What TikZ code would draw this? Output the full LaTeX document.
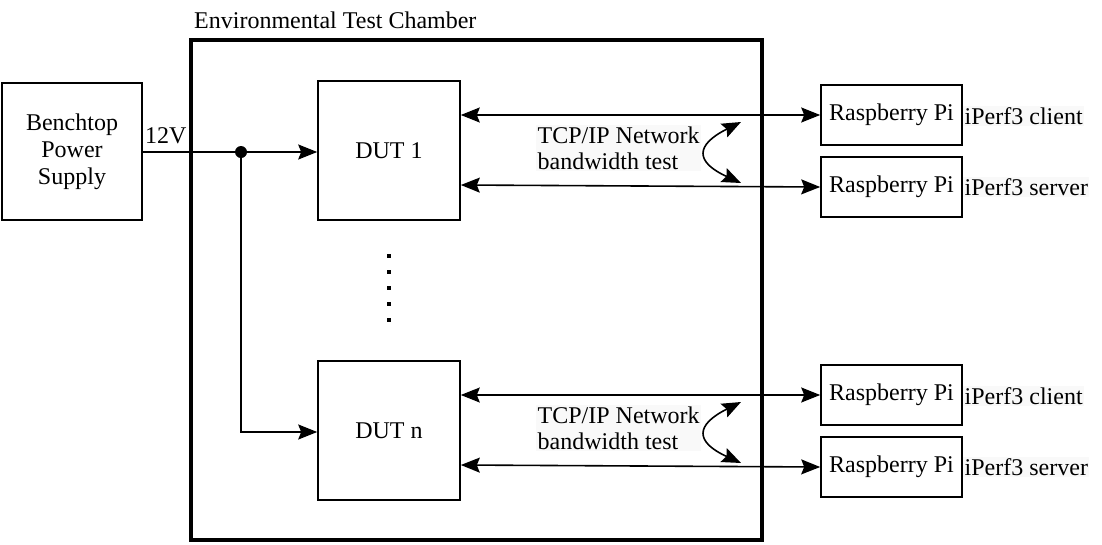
\documentclass[tikz,border=0pt]{standalone}
\usepackage{fontspec}
\setmainfont{Liberation Serif}
\usetikzlibrary{arrows.meta,positioning,calc}
\tikzset{
  block/.style={
    draw,
    line width=1.6pt,
    inner sep=0pt,
    align=center
  },
  rpibox/.style={
    block,
    minimum width=141pt,
    minimum height=60pt
  },
  dutbox/.style={
    block,
    minimum width=142pt,
    minimum height=139pt
  },
  tag/.style={
    fill=gray!5,
    inner sep=1.5pt,
    anchor=west
  },
  wire/.style={
    line width=1.6pt,
    -{Stealth[length=19pt,width=15pt,inset=3pt]}
  },
  duplex/.style={
    line width=1.6pt,
    {Stealth[length=19pt,width=15pt,inset=3pt]}-{Stealth[length=19pt,width=15pt,inset=3pt]}
  },
  every picture/.style = {
    x=1pt, y=-1pt,
    font=\fontsize{24}{28}\selectfont
  }
}

\begin{document}
\begin{tikzpicture}
  \useasboundingbox (0,0) rectangle (1102,544);
  % chamber
  \node[draw, line width=4pt, minimum width=571pt, minimum height=500pt, inner sep=0pt] (chamber) at (476.5,290) {};
  \node[anchor=south west, inner sep=0pt] (title) at ($(chamber.north west)+(5,-9)$) {Environmental Test Chamber};
  % supply
  \node[block, minimum width=140pt, minimum height=137pt] (psu) at (72,151.5) {Benchtop\\[-1pt]Power\\[-1pt]Supply};
  \foreach \g/\lbl/\dy in {a/1/0,b/n/280}{
    \node[dutbox] (dut\g) at (389,150.5+\dy) {DUT \lbl};
    \node[rpibox] (cli\g) at (891.5,115+\dy) {Raspberry Pi};
    \node[rpibox] (srv\g) at (891.5,187+\dy) {Raspberry Pi};
    \node[tag] (tcli\g) at (963,116+\dy) {iPerf3 client};
    \node[tag] (tsrv\g) at (963,187+\dy) {iPerf3 server};
    \draw[duplex] (cli\g.west -| dut\g.east) -- (cli\g.west);
    \draw[duplex] (dut\g.east |- 0,185+\dy) -- (srv\g.west);
    \node[fill=gray!5, inner sep=1.5pt, align=left, anchor=west] (bw\g) at (536,148+\dy) {TCP/IP Network\\[-2pt]bandwidth test};
    \coordinate (up\g) at (741,122+\dy);
    \coordinate (dn\g) at (741,183+\dy);
    \draw[duplex] (up\g) .. controls (695,145+\dy) and (695,162+\dy) .. (dn\g);
  }
  % power
  \node[circle, fill, inner sep=0pt, minimum size=12pt] (jn) at (241,152) {};
  \node[anchor=south west, inner sep=0pt] (volt) at (145,144) {12V};
  \draw[line width=1.6pt] (psu.east |- jn) -- (jn);
  \draw[wire] (jn) -- (jn -| duta.west);
  \draw[wire] (jn) |- (dutb.west |- 0,432);
  % ellipsis
  \foreach \k in {0,...,4}{
    \fill (386.5,253.5+16*\k) rectangle ++(4,4);
  }
\end{tikzpicture}
\end{document}
